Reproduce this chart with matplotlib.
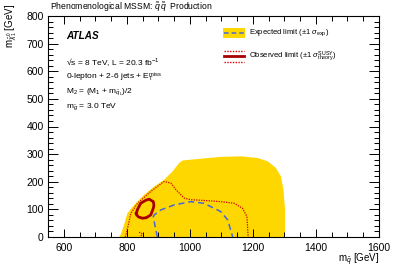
import matplotlib
matplotlib.use("Agg")
import matplotlib.pyplot as plt
from matplotlib.ticker import MultipleLocator
from matplotlib.patches import Rectangle
from matplotlib.lines import Line2D

plt.rcParams['font.family'] = ['Liberation Sans', 'DejaVu Sans']
plt.rcParams['mathtext.fontset'] = 'custom'
plt.rcParams['mathtext.rm'] = 'Liberation Sans'
plt.rcParams['mathtext.it'] = 'Liberation Sans:italic'
plt.rcParams['mathtext.bf'] = 'Liberation Sans:bold'

# ---- data (GeV) ----
band_x = [776, 781, 791, 802, 823, 855, 887, 918, 945, 966, 977, 1003, 1050, 1098, 1162,
          1215, 1247, 1273, 1289, 1297, 1302, 1302]
band_y = [0, 10, 44, 86, 116, 153, 183, 207, 237, 268, 277, 280, 285, 290, 292,
          286, 274, 250, 219, 171, 98, 0]

obs_x = [830, 834, 844, 860, 871, 884, 886, 884, 876, 862, 850, 838, 831, 830]
obs_y = [86, 100, 122, 133, 137, 128, 115, 104, 80, 70, 68, 72, 80, 86]

obs_up_x = [795, 800, 813, 834, 876, 918, 940, 956, 982, 1003, 1050, 1098, 1141, 1167, 1181, 1185]
obs_up_y = [0, 20, 86, 122, 165, 201, 195, 171, 141, 135, 132, 128, 122, 104, 74, 0]

obs_dn_x = [839, 846, 849, 846, 840]
obs_dn_y = [17, 15, 10, 5, 3]

exp_x = [897, 890, 884, 887, 908, 950, 1003, 1045, 1098, 1120, 1136]
exp_y = [0, 37, 74, 80, 98, 116, 128, 122, 92, 62, 0]

xlim = (550, 1600)
ylim = (0, 800)

YELLOW = '#FFD700'
DARKRED = '#A80000'
RED = '#D00000'
BLUE = '#4466DD'

fig = plt.figure(figsize=(3.99, 2.70), dpi=100)
ax = fig.add_axes([48/399, 1-237/270, (379-48)/399, (237-16)/270])

ax.fill(band_x, band_y, color=YELLOW, lw=0, zorder=1)
ax.plot(obs_up_x, obs_up_y, ls=(0, (1, 1)), color=RED, lw=0.9, zorder=3)
ax.plot(obs_dn_x, obs_dn_y, ls=(0, (1, 1)), color=RED, lw=0.9, zorder=3)
ax.plot(exp_x, exp_y, ls=(0, (4, 2.5)), color=BLUE, lw=1.1, zorder=3)
ax.plot(obs_x, obs_y, color=DARKRED, lw=2.0, zorder=4, solid_joinstyle='round')

ax.set_xlim(*xlim)
ax.set_ylim(*ylim)
ax.xaxis.set_major_locator(MultipleLocator(200))
ax.xaxis.set_minor_locator(MultipleLocator(50))
ax.yaxis.set_major_locator(MultipleLocator(100))
ax.yaxis.set_minor_locator(MultipleLocator(20))
ax.tick_params(which='both', direction='in', top=True, right=True, labelsize=7.5, width=0.7)
ax.tick_params(axis='x', which='major', length=6, pad=4)
ax.tick_params(axis='x', which='minor', length=3.5)
ax.tick_params(axis='y', which='major', length=7, pad=3)
ax.tick_params(axis='y', which='minor', length=3.5)
for s in ax.spines.values():
    s.set_linewidth(0.8)

# texts
fig.text(50/399, 1-7/270, r"Phenomenological MSSM: $\tilde{q}\,\tilde{q}$  Production",
         fontsize=6.2, ha='left', va='center')
fig.text(66/399, 1-36/270, "ATLAS", fontsize=7.2, fontweight='bold', fontstyle='italic',
         ha='left', va='center')
lines = ["\u221As = 8 TeV, L = 20.3 fb$^{-1}$",
         r"0-lepton + 2-6 jets + E$_{\rm T}^{\rm miss}$",
         r"M$_2$ = (M$_1$ + m$_{\tilde{q}_{\rm L}}$)/2",
         r"m$_{\tilde{g}}$ = 3.0 TeV"]
ys = [62, 77, 92, 107]
for t, yy in zip(lines, ys):
    fig.text(66/399, 1-yy/270, t, fontsize=6.0, ha='left', va='center')

# legend
fig.patches.append(Rectangle((223/399, 1-38/270), 22/399, 10/270, transform=fig.transFigure,
                             facecolor=YELLOW, edgecolor='none'))
fig.lines.append(Line2D([224/399, 244/399], [1-33/270, 1-33/270], transform=fig.transFigure,
                        color=BLUE, ls=(0, (3, 2)), lw=1.1))
fig.lines.append(Line2D([224/399, 244/399], [1-56/270, 1-56/270], transform=fig.transFigure,
                        color=DARKRED, lw=2.0))
for yy in (50.5, 62):
    fig.lines.append(Line2D([224/399, 244/399], [1-yy/270, 1-yy/270], transform=fig.transFigure,
                            color='#E00000', ls=(0, (1, 1)), lw=1.0))
fig.text(249/399, 1-33/270, r"Expected limit ($\pm$1 $\sigma_{\rm exp}$)", fontsize=5.5,
         ha='left', va='center')
fig.text(249/399, 1-56/270, r"Observed limit ($\pm$1 $\sigma^{\rm SUSY}_{\rm theory}$)", fontsize=5.5,
         ha='left', va='center')

# axis labels
fig.text(11/399, 1-4/270, r"m$_{\tilde{\chi}^0_1}$ [GeV]", rotation=90, fontsize=7,
         ha='center', va='top')
fig.text(379/399, 1-260/270, r"m$_{\tilde{q}}$ [GeV]", fontsize=7, ha='right', va='center')

fig.savefig("out.png", dpi=100)
